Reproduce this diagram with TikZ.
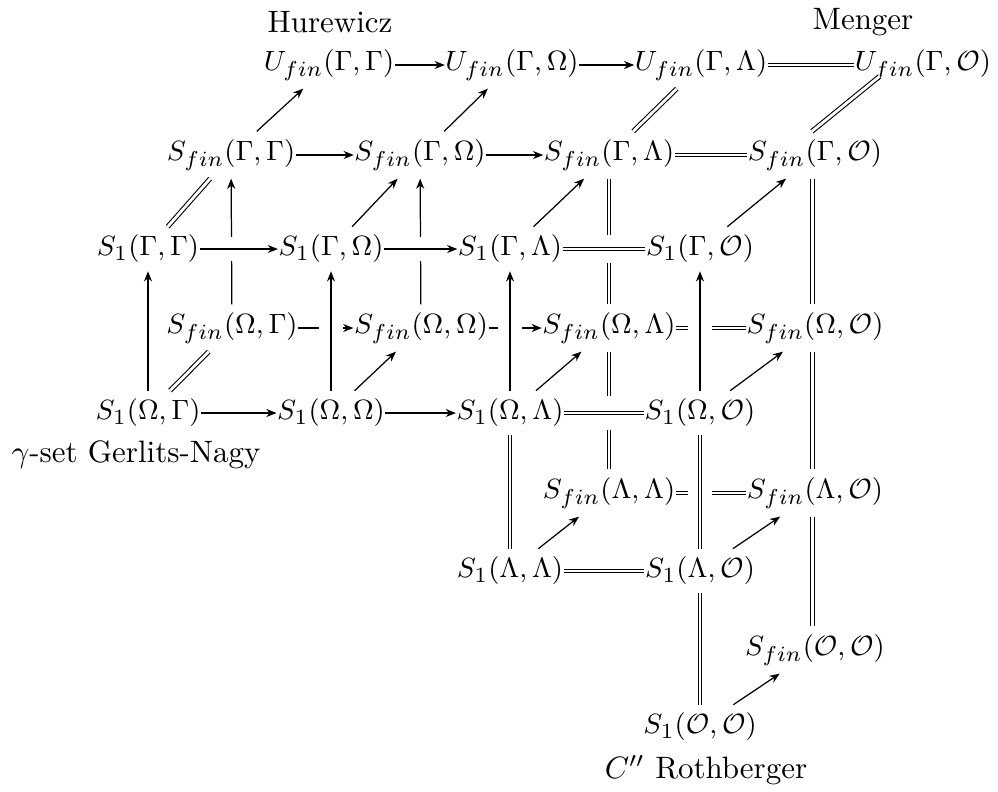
\documentclass[tikz,border=0pt]{standalone}
\usetikzlibrary{arrows.meta}
\begin{document}
\begin{tikzpicture}[x=0.323pt,y=-0.323pt,
  every node/.style={inner xsep=0pt,inner ysep=2.5pt},
  mnode/.style={font=\fontsize{9.4}{11}\selectfont},
  ar/.style={-{Stealth[length=3.3pt,width=2.6pt]},line width=0.4pt},
  eq/.style={double,double distance=0.9pt,line width=0.35pt},
  gapband/.style={draw=white,line width=7.5pt}]
\useasboundingbox (0,0) rectangle (998,791);
% U row
\node[mnode] (UGG) at (329,65) {$U_{fin}(\Gamma,\Gamma)$};
\node[mnode] (UGW) at (512,65) {$U_{fin}(\Gamma,\Omega)$};
\node[mnode] (UGL) at (701,65) {$U_{fin}(\Gamma,\Lambda)$};
\node[mnode] (UGO) at (923,65) {$U_{fin}(\Gamma,\mathcal{O})$};
% S_fin(Gamma, .)
\node[mnode] (FGG) at (231,155) {$S_{fin}(\Gamma,\Gamma)$};
\node[mnode] (FGW) at (420,155) {$S_{fin}(\Gamma,\Omega)$};
\node[mnode] (FGL) at (609,155) {$S_{fin}(\Gamma,\Lambda)$};
\node[mnode] (FGO) at (815,155) {$S_{fin}(\Gamma,\mathcal{O})$};
% S_1(Gamma, .)
\node[mnode] (SGG) at (148,249) {$S_1(\Gamma,\Gamma)$};
\node[mnode] (SGW) at (331,249) {$S_1(\Gamma,\Omega)$};
\node[mnode] (SGL) at (510,249) {$S_1(\Gamma,\Lambda)$};
\node[mnode] (SGO) at (700,249) {$S_1(\Gamma,\mathcal{O})$};
% S_fin(Omega, .)
\node[mnode] (FWG) at (232,328) {$S_{fin}(\Omega,\Gamma)$};
\node[mnode] (FWW) at (421,328) {$S_{fin}(\Omega,\Omega)$};
\node[mnode] (FWL) at (609,328) {$S_{fin}(\Omega,\Lambda)$};
\node[mnode] (FWO) at (815,328) {$S_{fin}(\Omega,\mathcal{O})$};
% S_1(Omega, .)
\node[mnode] (SWG) at (148,413) {$S_1(\Omega,\Gamma)$};
\node[mnode] (SWW) at (331,413) {$S_1(\Omega,\Omega)$};
\node[mnode] (SWL) at (510,413) {$S_1(\Omega,\Lambda)$};
\node[mnode] (SWO) at (700,413) {$S_1(\Omega,\mathcal{O})$};
% Lambda rows
\node[mnode] (FLL) at (609,493) {$S_{fin}(\Lambda,\Lambda)$};
\node[mnode] (FLO) at (815,493) {$S_{fin}(\Lambda,\mathcal{O})$};
\node[mnode] (SLL) at (510,571) {$S_1(\Lambda,\Lambda)$};
\node[mnode] (SLO) at (700,571) {$S_1(\Lambda,\mathcal{O})$};
% O rows
\node[mnode] (FOO) at (815,650) {$S_{fin}(\mathcal{O},\mathcal{O})$};
\node[mnode] (SOO) at (700,727) {$S_1(\mathcal{O},\mathcal{O})$};
% labels
\node (hur) at (330,22) {Hurewicz};
\node (men) at (863,22) {Menger};
\node (gns) at (136,455) {$\gamma$-set Gerlits-Nagy};
\node (rot) at (706,770) {$C''$ Rothberger};

% ---- lines that pass underneath ----
\draw[ar] (FWG) -- (FGG);
\draw[ar] (FWW) -- (FGW);
\draw[eq] (FWL) -- (FGL);
\draw[ar] (FWG) -- (FWW);
\draw[ar] (FWW) -- (FWL);
\draw[eq] (FWL) -- (FWO);
\draw[eq] (FWL) -- (FLL);
\draw[eq] (FLL) -- (FLO);

% ---- ordinary lines ----
\draw[ar] (UGG) -- (UGW);
\draw[ar] (UGW) -- (UGL);
\draw[eq] (UGL) -- (UGO);
\draw[ar] (FGG) -- (FGW);
\draw[ar] (FGW) -- (FGL);
\draw[eq] (FGL) -- (FGO);
\draw[ar] (FGG) -- (UGG);
\draw[ar] (FGW) -- (UGW);
\draw[eq] (FGL) -- (UGL);
\draw[eq] ([xshift=-1pt]FGO.north) -- ([xshift=-14pt,yshift=4pt]UGO.south);
\draw[eq] (SGG) -- (FGG);
\draw[ar] (SGW) -- (FGW);
\draw[ar] (SGL) -- (FGL);
\draw[ar] (SGO) -- (FGO);
\draw[eq] (SWG) -- (FWG);
\draw[ar] (SWW) -- (FWW);
\draw[ar] (SWL) -- (FWL);
\draw[ar] (SWO) -- (FWO);
\draw[ar] (SLL) -- (FLL);
\draw[ar] (SLO) -- (FLO);
\draw[ar] (SOO) -- (FOO);
\draw[ar] (SWG) -- (SGG);
\draw[ar] (SWG) -- (SWW);
\draw[ar] (SWW) -- (SWL);
\draw[eq] (SLL) -- (SLO);
\draw[eq] (SWL) -- (SLL);
\draw[eq] (SLO) -- (SOO);
\draw[eq] ([xshift=-0.8pt]FGO.south) -- ([xshift=-0.8pt]FWO.north);
\draw[eq] ([xshift=-0.8pt]FWO.south) -- ([xshift=-0.8pt]FLO.north);
\draw[eq] ([xshift=-0.8pt]FLO.south) -- ([xshift=-0.8pt]FOO.north);

% ---- lines that pass over ----
\path[gapband] (SGG) -- (SGW);
\draw[ar] (SGG) -- (SGW);
\path[gapband] (SGW) -- (SGL);
\draw[ar] (SGW) -- (SGL);
\path[gapband,line width=9pt] (SGL) -- (SGO);
\draw[eq] (SGL) -- (SGO);
\path[gapband] (SWW) -- (SGW);
\draw[ar] (SWW) -- (SGW);
\path[gapband] (SWL) -- (SGL);
\draw[ar] (SWL) -- (SGL);
\path[gapband] (SWO) -- (SGO);
\draw[ar] (SWO) -- (SGO);
\path[gapband,line width=11pt] (SWL) -- (SWO);
\draw[eq] (SWL) -- (SWO);
\path[gapband] (SWO) -- (SLO);
\draw[eq] (SWO) -- (SLO);
\end{tikzpicture}
\end{document}
